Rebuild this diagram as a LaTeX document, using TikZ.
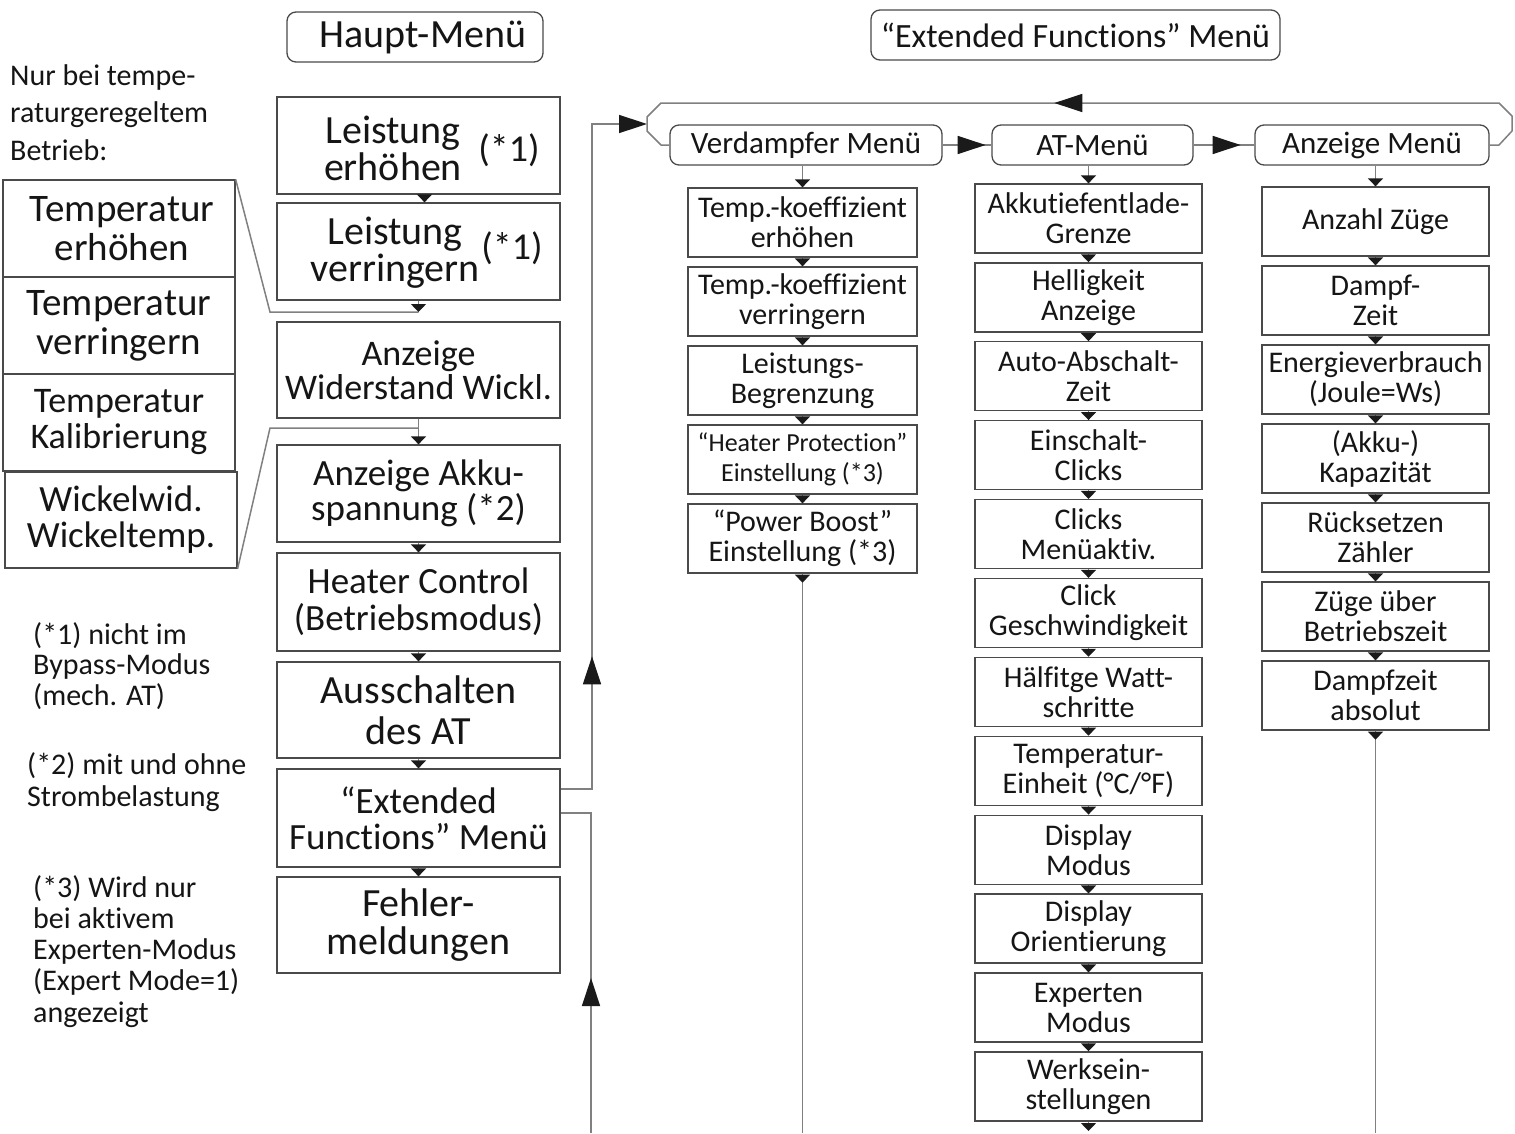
\documentclass[tikz,border=0pt]{standalone}
\usepackage{fontspec}
\setmainfont[Ligatures=NoCommon]{Carlito}
\usetikzlibrary{arrows.meta,decorations.markings}
\definecolor{boxc}{HTML}{4A4A4A}
\definecolor{linec}{HTML}{808080}
\definecolor{arrc}{HTML}{1A1A1A}
\definecolor{txtc}{HTML}{151515}
\begin{document}
\begin{tikzpicture}[x=1pt,y=-1pt,
  fs/.style 2 args={font=\fontsize{#1}{#2}\selectfont},
  box/.style={draw=boxc,line width=1.3pt,inner sep=0pt,align=center,text=txtc},
  hdr/.style={box,rounded corners=9pt},
  lbl/.style={inner sep=0pt,align=center,text=txtc},
  mainbox/.style={box,minimum width=283pt},
  vbox/.style={box,minimum width=229pt,minimum height=69pt,fs={30}{30}},
  abox/.style={box,minimum width=227pt,minimum height=69pt,fs={30}{30}},
  zbox/.style={box,minimum width=227pt,minimum height=69pt,fs={30}{30}},
  lbox/.style={box,minimum width=232pt,minimum height=97pt},
  conn/.style={draw=linec,line width=1.5pt},
  sarr/.style={conn,-{Triangle[width=15pt,length=8pt,color=arrc]}},
  barr/.style={conn,-{Triangle[width=18pt,length=28pt,color=arrc]}},
  midbig/.style={postaction={decorate,decoration={markings,mark=at position #1 with {\arrow{Triangle[width=18pt,length=28pt,color=arrc]}}}}},
  midsmall/.style={postaction={decorate,decoration={markings,mark=at position #1 with {\arrow{Triangle[width=15pt,length=8pt,color=arrc]}}}}}
]
\useasboundingbox[fill=white] (0,0) rectangle (1515,1133);

% ---------- headers ----------
\node[hdr,minimum width=256pt,minimum height=50pt,fs={40}{40}] (hm) at (415,37) {\hspace*{16pt}Haupt-Menü};
\node[hdr,minimum width=409pt,minimum height=50pt,fs={34}{34}] (xf) at (1075.5,35) {“Extended Functions” Menü};
\node[hdr,minimum width=272pt,minimum height=40pt,fs={31}{31}] (vd) at (806,145) {Verdampfer Menü};
\node[hdr,minimum width=201pt,minimum height=40pt,fs={31}{31}] (at) at (1092.5,145) {AT-Menü};
\node[hdr,minimum width=234pt,minimum height=40pt,fs={31}{31}] (an) at (1372,145) {Anzeige Menü};

% ---------- left texts ----------
\node[lbl,anchor=north west,align=left,fs={30}{37.5}] (nt) at (10,64) {Nur bei tempe-\\raturgeregeltem\\Betrieb:};
\node[lbl,anchor=north west,align=left,fs={30}{30.5}] (fn1) at (33,622) {(*1) nicht im\\Bypass-Modus\\(mech. AT)};
\node[lbl,anchor=north west,align=left,fs={30}{32}] (fn2) at (27,752) {(*2) mit und ohne\\Strombelastung};
\node[lbl,anchor=north west,align=left,fs={30}{31.25}] (fn3) at (33,875) {(*3) Wird nur\\bei aktivem\\Experten-Modus\\(Expert Mode=1)\\angezeigt};

% ---------- left boxes ----------
\node[lbox,fs={39}{39}] (t1) at (119,228.5) {\hspace*{6pt}Temperatur\\\hspace*{6pt}erhöhen};
\node[lbox,fs={39}{39}] (t2) at (119,325.5) {Temperatur\\verringern};
\node[lbox,fs={36}{36}] (t3) at (119,422.5) {Temperatur\\Kalibrierung};
\node[lbox,minimum height=96pt,fs={37}{36}] (t4) at (121,520) {Wickelwid.\\Wickeltemp.};

% ---------- main column ----------
\node[mainbox,minimum height=97pt] (lh) at (418.5,145.5) {};
\node[lbl,fs={40}{37}] (lht) at (393,148) {Leistung\\erhöhen};
\node[lbl,fs={38}{38}] (lhn) at (509,150) {(*1)};
\node[mainbox,minimum height=97pt] (lv) at (418.5,251.5) {};
\node[lbl,fs={40}{37}] (lvt) at (395,253) {Leistung\\verringern};
\node[lbl,fs={38}{38}] (lvn) at (512,248) {(*1)};
\node[mainbox,minimum height=96pt,fs={36}{34}] (aw) at (418.5,370) {Anzeige\\Widerstand Wickl.};
\node[mainbox,minimum height=97pt,fs={37}{35}] (ak) at (418.5,493.5) {Anzeige Akku-\\spannung (*2)};
\node[mainbox,minimum height=98pt,fs={37}{37}] (hc) at (418.5,602) {Heater Control\\(Betriebsmodus)};
\node[mainbox,minimum height=96pt,fs={40}{41}] (au) at (418.5,710) {Ausschalten\\des AT};
\node[mainbox,minimum height=98pt,fs={37}{36}] (ef) at (418.5,818) {“Extended\\Functions” Menü};
\node[mainbox,minimum height=96pt,fs={40}{38}] (fm) at (418.5,925) {Fehler-\\meldungen};

\draw[sarr] ([xshift=6pt]lh.south) -- ([xshift=6pt]lv.north);
\coordinate (J1) at (418.5,312);
\coordinate (K1) at (270,312);
\draw[conn] (t1.north east) -- (K1) -- (J1);
\draw[sarr] (lv.south) -- (J1);
\coordinate (J2) at (418.5,428);
\coordinate (K2) at (270,428);
\draw[conn] (t4.south east) -- (K2) -- (J2);
\draw[conn] (aw.south) -- (J2);
\draw[sarr] (J2) -- (ak.north);
\draw[sarr] (ak.south) -- (hc.north);
\draw[sarr] (hc.south) -- (au.north);
\draw[sarr] (au.south) -- (ef.north);
\draw[sarr] (ef.south) -- (fm.north);

% ---------- loop from Extended Functions ----------
\coordinate (E1) at (592,789);
\coordinate (E2) at (592,124);
\coordinate (BL) at (647,124);
\draw[barr,midbig=164pt] (ef.east |- E1) -- (E1) -- (E2) -- (BL);
\coordinate (E3) at (591,813);
\coordinate (E4) at (591,1133);
\draw[conn,midbig=155pt] (E4) -- (E3) -- (ef.east |- E3);

% bracket round the three sub-menu headers
\coordinate (B1) at (661,145);
\coordinate (B2) at (647,131);
\coordinate (B3) at (647,117);
\coordinate (B4) at (661,103);
\coordinate (B5) at (1499,103);
\coordinate (B6) at (1512,116);
\coordinate (B7) at (1512,131);
\coordinate (B8) at (1499,145);
\draw[conn,line join=round,midbig=506.5pt] (an.east) -- (B8) -- (B7) -- (B6) -- (B5) -- (B4) -- (B3) -- (B2) -- (B1) -- (vd.west);
\draw[conn,midbig=43pt] (vd.east) -- (at.west);
\draw[conn,midbig=47pt] (at.east) -- (an.west);

% ---------- Verdampfer column ----------
\foreach \t [count=\i] in {{Temp.-koeffizient\\erhöhen},{Temp.-koeffizient\\verringern},{Leistungs-\\Begrenzung},{\fontsize{26}{26}\selectfont “Heater Protection”\\\fontsize{26}{26}\selectfont Einstellung (*3)},{“Power Boost”\\Einstellung (*3)}}
  \node[vbox] (v\i) at (802.5,{222.5+79*(\i-1)}) {\t};
\draw[sarr] (v1.north |- vd.south) -- (v1.north);
\foreach \i [evaluate=\i as \j using int(\i+1)] in {1,...,4}
  \draw[sarr] (v\i.south) -- (v\j.north);
\coordinate (VB) at (802.5,1133);
\draw[conn,midsmall=9pt] (v5.south) -- (VB);

% ---------- AT column ----------
\foreach \t [count=\i] in {{Akkutiefentlade-\\Grenze},{Helligkeit\\Anzeige},{Auto-Abschalt-\\Zeit},{Einschalt-\\Clicks},{Clicks\\Menüaktiv.},{Click\\Geschwindigkeit},{Hälfitge Watt-\\schritte},{Temperatur-\\Einheit (°C/°F)},{Display\\Modus},{Display\\Orientierung},{Experten\\Modus},{Werksein-\\stellungen}}
  \node[abox] (a\i) at (1088.5,{218.5+78.9*(\i-1)}) {\t};
\draw[sarr] (a1.north |- at.south) -- (a1.north);
\foreach \i [evaluate=\i as \j using int(\i+1)] in {1,...,11}
  \draw[sarr] (a\i.south) -- (a\j.north);
\coordinate (AB) at (1088.5,1131);
\draw[sarr] (a12.south) -- (AB);

% ---------- Anzeige column ----------
\foreach \t [count=\i] in {{Anzahl Züge},{Dampf-\\Zeit},{Energieverbrauch\\(Joule=Ws)},{(Akku-)\\Kapazität},{Rücksetzen\\Zähler},{Züge über\\Betriebszeit},{Dampfzeit\\absolut}}
  \node[zbox] (z\i) at (1375.5,{221.5+79*(\i-1)}) {\t};
\draw[sarr] (z1.north |- an.south) -- (z1.north);
\foreach \i [evaluate=\i as \j using int(\i+1)] in {1,...,6}
  \draw[sarr] (z\i.south) -- (z\j.north);
\coordinate (ZB) at (1375.5,1133);
\draw[conn,midsmall=9pt] (z7.south) -- (ZB);
\end{tikzpicture}
\end{document}
